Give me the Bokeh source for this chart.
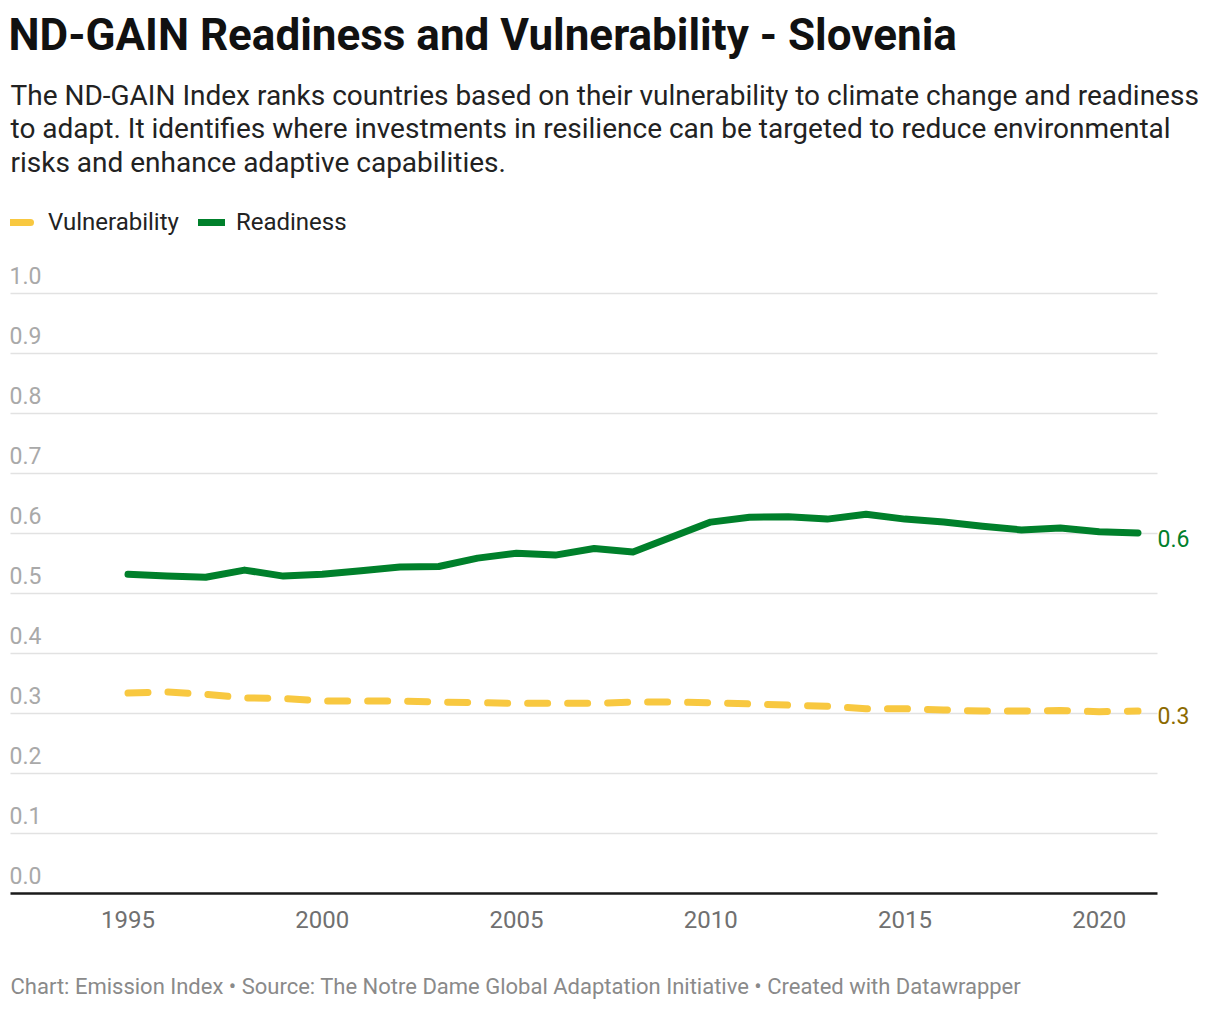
from bokeh.plotting import figure
from bokeh.models import Range1d, FixedTicker, Label, ColumnDataSource, Title
from bokeh.core.properties import value
from bokeh.embed import file_html
from bokeh.resources import INLINE

# ---------------- data ----------------
years = list(range(1995, 2022))
vulnerability = [0.334, 0.336, 0.332, 0.326, 0.325, 0.321, 0.321, 0.321, 0.319,
                 0.318, 0.317, 0.317, 0.317, 0.319, 0.319, 0.318, 0.316, 0.314,
                 0.312, 0.308, 0.308, 0.306, 0.304, 0.304, 0.305, 0.303, 0.304]
readiness = [0.532, 0.529, 0.527, 0.539, 0.529, 0.532, 0.538, 0.544, 0.545,
             0.559, 0.567, 0.564, 0.575, 0.569, 0.594, 0.619, 0.627, 0.628,
             0.624, 0.632, 0.624, 0.619, 0.612, 0.606, 0.609, 0.603, 0.601]
series_names = ["Vulnerability", "Readiness"]
x_ticks = [1995, 2000, 2005, 2010, 2015, 2020]
y_ticks = [0.0, 0.1, 0.2, 0.3, 0.4, 0.5, 0.6, 0.7, 0.8, 0.9, 1.0]
y_tick_labels = ["0.0", "0.1", "0.2", "0.3", "0.4", "0.5", "0.6", "0.7", "0.8", "0.9", "1.0"]

title_text = "ND-GAIN Readiness and Vulnerability - Slovenia"
subtitle_lines = [
    "The ND-GAIN Index ranks countries based on their vulnerability to climate change and readiness",
    "to adapt. It identifies where investments in resilience can be targeted to reduce environmental",
    "risks and enhance adaptive capabilities.",
]
footer_text = ("Chart: Emission Index \u2022 Source: The Notre Dame Global Adaptation Initiative "
               "\u2022 Created with Datawrapper")

# ---------------- layout / style ----------------
FONT = "Roboto"
GREEN = "#00802b"
YELLOW = "#f8c840"
GREEN_LABEL = "#00802b"
YELLOW_LABEL = "#8c6a00"

W, H = 1220, 1010
FRAME_BOTTOM = 893          # pixel row of the x axis
PPY = 38.846                # pixels per year
PPU = 600.0                 # pixels per index unit
X_START = 1995 - 127.5 / PPY
X_END = X_START + W / PPY
Y_START = 0.0
Y_END = FRAME_BOTTOM / PPU
GX0 = X_START + 10 / PPY    # left end of grid / axis
GX1 = X_START + 1157 / PPY  # right end of grid / axis

p = figure(width=W, height=H, output_backend="svg", toolbar_location=None,
           x_range=Range1d(X_START, X_END), y_range=Range1d(Y_START, Y_END),
           y_axis_location=None, title=None,
           min_border_left=0, min_border_right=0, min_border_top=0,
           min_border_bottom=H - FRAME_BOTTOM)
p.outline_line_color = None
p.background_fill_color = "white"
p.border_fill_color = "white"
for g in p.grid:
    g.visible = False

# horizontal gridlines (limited to the chart width)
gsrc = ColumnDataSource(dict(x0=[GX0] * (len(y_ticks) - 1), x1=[GX1] * (len(y_ticks) - 1),
                             y=y_ticks[1:]))
p.segment(x0="x0", y0="y", x1="x1", y1="y", source=gsrc, line_color="#e2e2e2", line_width=1.3)

xa = p.xaxis[0]
xa.ticker = FixedTicker(ticks=x_ticks)
xa.bounds = (GX0, GX1)
xa.axis_line_color = "#1a1a1a"
xa.axis_line_width = 2.5
xa.major_tick_line_color = None
xa.minor_tick_line_color = None
xa.major_label_text_font = FONT
xa.major_label_text_font_size = "24px"
xa.major_label_text_color = "#707070"
xa.major_label_standoff = 11

# y tick labels above gridlines
ysrc = ColumnDataSource(dict(x=[GX0] * len(y_ticks), y=y_ticks, t=y_tick_labels))
p.text(x="x", y="y", text="t", source=ysrc, text_font=value(FONT), text_font_size="23px",
       text_color="#a9a9a9", text_align="left", text_baseline="middle",
       x_offset=-1, y_offset=-18)

# lines
src = ColumnDataSource(dict(year=years, vul=vulnerability, rea=readiness))
p.line("year", "vul", source=src, color=YELLOW, line_width=7, line_dash="20 20",
       line_cap="round", line_join="round", legend_label=series_names[0])
p.line("year", "rea", source=src, color=GREEN, line_width=7,
       line_cap="round", line_join="round", legend_label=series_names[1])

# end labels
for vals, col, dy in ((readiness, GREEN_LABEL, -5.3), (vulnerability, YELLOW_LABEL, -4)):
    p.add_layout(Label(x=years[-1], y=vals[-1], text=f"{vals[-1]:.1f}", x_offset=19.5, y_offset=dy,
                       text_font=FONT, text_font_size="23px", text_color=col,
                       text_baseline="middle", text_align="left"))

# legend
lg = p.legend[0]
lg.location = (10, FRAME_BOTTOM - 236)
lg.orientation = "horizontal"
lg.padding = 0
lg.margin = 0
lg.spacing = 19
lg.glyph_width = 27
lg.glyph_height = 20
lg.label_height = 20
lg.label_standoff = 11
lg.label_text_font = FONT
lg.label_text_font_size = "24px"
lg.label_text_color = "#222222"
lg.border_line_color = None
lg.background_fill_alpha = 0

# header (screen units relative to plot frame bottom-left)
p.add_layout(Label(x=8, y=FRAME_BOTTOM - 34, x_units="screen", y_units="screen", text=title_text,
                   text_font=FONT, text_font_size="44px", text_font_style="bold",
                   text_color="#111111", text_baseline="middle"))
for txt, yy in zip(subtitle_lines, [95.2, 128.4, 161.6]):
    p.add_layout(Label(x=10, y=FRAME_BOTTOM - yy, x_units="screen", y_units="screen", text=txt,
                       text_font=FONT, text_font_size="28px", text_color="#222222",
                       text_baseline="middle"))

# footer (a blank spacer title pushes it to the bottom of the page)
p.add_layout(Title(text=" ", text_font_size="10px", standoff=18), "below")
p.add_layout(Title(text=footer_text, align="left", offset=10, standoff=20,
                   text_font=FONT, text_font_size="22px", text_color="#8a8a8a",
                   text_font_style="normal"), "below")

open("out.html", "w").write(file_html(p, INLINE))
